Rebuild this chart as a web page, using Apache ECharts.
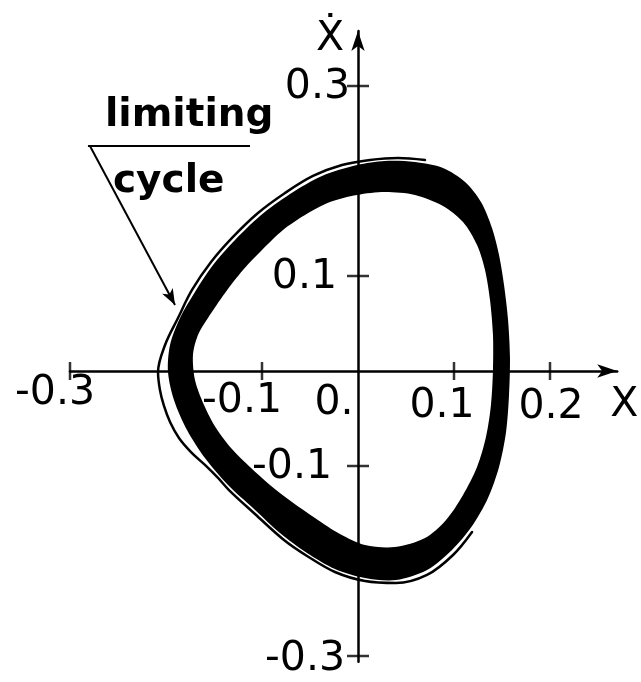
<!DOCTYPE html>
<html>
<head>
<meta charset="utf-8">
<script src="https://cdn.jsdelivr.net/npm/echarts@6/dist/echarts.min.js"></script>
<style>
  html, body { margin: 0; padding: 0; background: #fff; }
  #chart { width: 641px; height: 682px; }
</style>
</head>
<body>
<div id="chart"></div>
<script>
// Phase plane (x, x-dot): bundle of trajectories settling on the limiting cycle.

// outer boundary of the trajectory bundle
const bandOuterEdge = [
  [-0.0010, 0.2168], [0.0281, 0.2211], [0.0594, 0.2200], [0.0885, 0.2137],
  [0.1115, 0.1989], [0.1281, 0.1779], [0.1396, 0.1505], [0.1469, 0.1221],
  [0.1521, 0.0905], [0.1563, 0.0537], [0.1583, 0.0147], [0.1573, -0.0253],
  [0.1542, -0.0642], [0.1469, -0.1011], [0.1354, -0.1337], [0.1188, -0.1632],
  [0.0979, -0.1884], [0.0719, -0.2095], [0.0396, -0.2200], [0.0073, -0.2179],
  [-0.0240, -0.2084], [-0.0531, -0.1916], [-0.0813, -0.1705], [-0.1094, -0.1442],
  [-0.1354, -0.1200], [-0.1594, -0.0916], [-0.1781, -0.0621], [-0.1917, -0.0305],
  [-0.1979, -0.0011], [-0.1958, 0.0274], [-0.1854, 0.0558], [-0.1698, 0.0832],
  [-0.1510, 0.1116], [-0.1281, 0.1379], [-0.1021, 0.1632], [-0.0708, 0.1863],
  [-0.0375, 0.2053]
];

// inner boundary of the trajectory bundle
const bandInnerEdge = [
  [-0.0010, 0.1853], [0.0281, 0.1884], [0.0594, 0.1853], [0.0885, 0.1737],
  [0.1094, 0.1568], [0.1240, 0.1326], [0.1323, 0.1063], [0.1375, 0.0747],
  [0.1406, 0.0379], [0.1406, 0.0011], [0.1385, -0.0358], [0.1333, -0.0695],
  [0.1240, -0.1011], [0.1094, -0.1305], [0.0917, -0.1568], [0.0698, -0.1758],
  [0.0385, -0.1853], [0.0073, -0.1832], [-0.0188, -0.1716], [-0.0448, -0.1547],
  [-0.0688, -0.1379], [-0.0917, -0.1200], [-0.1125, -0.1011], [-0.1313, -0.0821],
  [-0.1479, -0.0600], [-0.1604, -0.0358], [-0.1698, -0.0095], [-0.1719, 0.0168],
  [-0.1667, 0.0379], [-0.1563, 0.0558], [-0.1385, 0.0821], [-0.1198, 0.1063],
  [-0.1000, 0.1274], [-0.0781, 0.1484], [-0.0552, 0.1642], [-0.0292, 0.1779]
];

// a single trajectory still approaching from outside
const strayTrace = [
  [0.0698, 0.2221], [0.0417, 0.2242], [0.0125, 0.2221], [-0.0167, 0.2168],
  [-0.0469, 0.2053], [-0.0760, 0.1874], [-0.1042, 0.1663], [-0.1302, 0.1411],
  [-0.1531, 0.1147], [-0.1729, 0.0853], [-0.1875, 0.0558], [-0.2010, 0.0274],
  [-0.2083, -0.0011], [-0.2063, -0.0200], [-0.2021, -0.0368], [-0.1958, -0.0537],
  [-0.1865, -0.0705], [-0.1740, -0.0853], [-0.1594, -0.0989], [-0.1458, -0.1126],
  [-0.1344, -0.1253], [-0.1073, -0.1505], [-0.0771, -0.1779], [-0.0531, -0.1947],
  [-0.0240, -0.2116], [0.0073, -0.2211], [0.0396, -0.2232], [0.0719, -0.2147],
  [0.0990, -0.1937], [0.1188, -0.1695]
];

// axis ticks and their labels
const xTickValues = [-0.3, -0.1, 0.1, 0.2];
const yTickValues = [0.3, 0.1, -0.1, -0.3];
const xLabelValues = [-0.3, -0.1, 0, 0.1, 0.2];
const xLabelTexts = ['-0.3', '-0.1', '0.', '0.1', '0.2'];
const yLabelValues = [0.3, 0.1, -0.1, -0.3];
const yLabelTexts = ['0.3', '0.1', '-0.1', '-0.3'];
const axisNames = ['X', '\u1E8A'];
const xAxisMax = 0.27;
const yAxisMax = 0.358;

// annotation text
const noteLines = ['limiting', 'cycle'];

// hand-lettered label nudges (px)
const X_LABEL_NUDGE = [[-15, 22], [-20, 30], [-24, 32], [-12, 35], [1, 36]];
const Y_LABEL_NUDGE = [[-8, 1], [-21, 1], [-26, 1], [-13, 3]];
const X_NAME_NUDGE = [7, 34];
const Y_NAME_NUDGE = [-28, 8];

const FONT = 'DejaVu Sans';
const INK = '#000';
const TEXT_SIZE = 41;

// every piece of axis lettering, as [x, y, text, align, dx, dy]
const lettering = [];
xLabelValues.forEach((v, i) => lettering.push([v, 0, xLabelTexts[i], 'center', X_LABEL_NUDGE[i][0], X_LABEL_NUDGE[i][1]]));
yLabelValues.forEach((v, i) => lettering.push([0, v, yLabelTexts[i], 'right', Y_LABEL_NUDGE[i][0], Y_LABEL_NUDGE[i][1]]));
lettering.push([xAxisMax, 0, axisNames[0], 'center', X_NAME_NUDGE[0], X_NAME_NUDGE[1]]);
lettering.push([0, yAxisMax, axisNames[1], 'center', Y_NAME_NUDGE[0], Y_NAME_NUDGE[1]]);

const chart = echarts.init(document.getElementById('chart'), null, { renderer: 'canvas' });

chart.setOption({
  animation: false,
  backgroundColor: '#fff',
  grid: { left: 70, right: 23.8, top: 30.9, bottom: 20.3 },
  xAxis: {
    type: 'value', min: -0.3, max: xAxisMax,
    axisLine: { onZero: true, symbol: ['none', 'arrow'], symbolSize: [10, 20], lineStyle: { color: INK, width: 2.5 } },
    axisTick: { show: false }, axisLabel: { show: false }, splitLine: { show: false }
  },
  yAxis: {
    type: 'value', min: -0.306, max: yAxisMax,
    axisLine: { onZero: true, symbol: ['none', 'arrow'], symbolSize: [10, 20], lineStyle: { color: INK, width: 2.5 } },
    axisTick: { show: false }, axisLabel: { show: false }, splitLine: { show: false }
  },
  series: [
    {
      // the dense bundle: filled ring between its outer and inner boundary
      name: 'limiting cycle', type: 'custom', z: -1, silent: true,
      data: [[0, 0]],
      renderItem: function (params, api) {
        const outer = bandOuterEdge.map(p => api.coord(p));
        const inner = bandInnerEdge.map(p => api.coord(p));
        return {
          type: 'group',
          children: [
            { type: 'polygon', shape: { points: outer, smooth: 0.3 }, style: { fill: INK } },
            { type: 'polygon', shape: { points: inner, smooth: 0.3 }, style: { fill: '#fff' } }
          ]
        };
      }
    },
    {
      name: 'approach', type: 'line', smooth: 0.35, showSymbol: false, silent: true, clip: false,
      lineStyle: { color: INK, width: 2.5, cap: 'round', join: 'round' },
      emphasis: { disabled: true },
      data: strayTrace,
      markLine: {
        silent: true, animation: false,
        symbol: ['none', 'arrow'], symbolSize: [9, 16],
        label: { show: false },
        lineStyle: { color: INK, width: 2, type: 'solid' },
        emphasis: { disabled: true },
        data: [
          [{ coord: [-0.2792, 0.2368] }, { coord: [-0.1906, 0.0695] }],
          [{ coord: [-0.2813, 0.2370], symbol: 'none' }, { coord: [-0.1125, 0.2370], symbol: 'none' }]
        ]
      }
    },
    {
      name: 'xTicks', type: 'scatter', silent: true,
      symbol: 'rect', symbolSize: [2.5, 18],
      itemStyle: { color: INK },
      data: xTickValues.map(v => [v, 0])
    },
    {
      name: 'yTicks', type: 'scatter', silent: true,
      symbol: 'rect', symbolSize: [22, 2.5],
      itemStyle: { color: INK },
      data: yTickValues.map(v => [0, v])
    },
    {
      name: 'lettering', type: 'custom', silent: true, clip: false,
      data: lettering,
      renderItem: function (params, api) {
        const item = lettering[params.dataIndex];
        const pt = api.coord([item[0], item[1]]);
        return {
          type: 'text',
          x: pt[0] + item[4], y: pt[1] + item[5],
          style: {
            text: item[2], fill: INK,
            font: TEXT_SIZE + 'px "' + FONT + '"',
            align: item[3], verticalAlign: 'middle'
          }
        };
      }
    }
  ],
  graphic: [
    { type: 'text', left: 105, top: 96, silent: true,
      style: { text: noteLines[0], fontFamily: FONT, fontSize: 39, fontWeight: 'bold', fill: INK } },
    { type: 'text', left: 113, top: 162, silent: true,
      style: { text: noteLines[1], fontFamily: FONT, fontSize: 39, fontWeight: 'bold', fill: INK } }
  ]
});
</script>
</body>
</html>
